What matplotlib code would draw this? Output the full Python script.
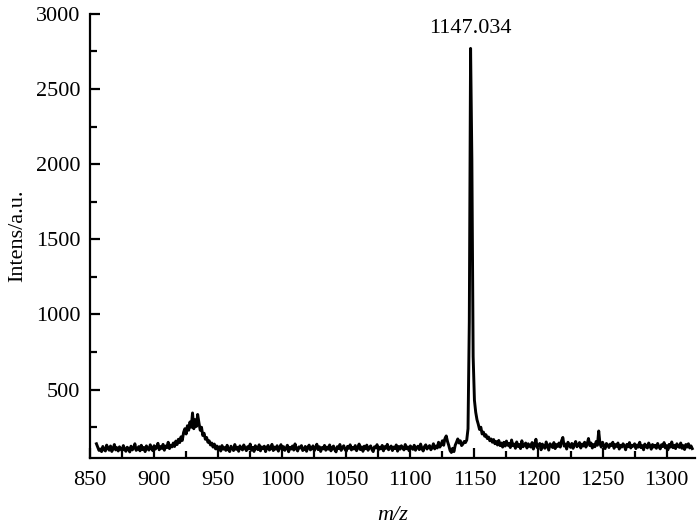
import numpy as np
import matplotlib
matplotlib.use('Agg')
import matplotlib.pyplot as plt
from matplotlib.ticker import MultipleLocator

plt.rcParams['font.family'] = ['Liberation Serif', 'DejaVu Serif']

# spectrum, one point per m/z unit starting at 855
mz_start = 855
intensity = [
    140, 118, 96, 105, 88, 122, 100, 92, 131, 110, 97, 125, 89, 108, 135, 99, 114, 92, 120, 104,
    95, 128, 102, 90, 117, 108, 86, 124, 99, 112, 140, 96, 105, 121, 93, 130, 101, 115, 88, 126,
    106, 98, 133, 111, 94, 127, 104, 119, 143, 100, 122, 109, 136, 97, 125, 114, 150, 108, 131, 119,
    145, 122, 158, 135, 170, 148, 186, 162, 215, 240, 205, 260, 230, 285, 250, 345, 240, 300, 255, 335,
    280, 230, 250, 195, 210, 170, 182, 150, 160, 132, 145, 118, 138, 106, 125, 98, 120, 92, 128, 104,
    115, 96, 130, 101, 88, 124, 109, 95, 135, 103, 117, 90, 126, 108, 99, 132, 112, 94, 121, 105,
    138, 97, 116, 89, 127, 110, 101, 133, 93, 119, 107, 124, 88, 114, 129, 98, 111, 136, 95, 118,
    104, 127, 91, 115, 134, 100, 121, 96, 110, 130, 87, 117, 105, 125, 98, 139, 108, 92, 119, 112,
    128, 95, 103, 122, 90, 116, 131, 99, 109, 126, 94, 113, 137, 101, 120, 89, 115, 106, 129, 97,
    118, 104, 132, 93, 111, 125, 100, 86, 121, 108, 135, 96, 114, 127, 103, 91, 123, 110, 133, 99,
    116, 105, 128, 94, 112, 138, 101, 119, 90, 124, 107, 131, 97, 115, 126, 102, 88, 120, 113, 134,
    98, 117, 106, 129, 93, 121, 110, 136, 100, 114, 125, 95, 118, 108, 132, 91, 122, 104, 127, 112,
    99, 135, 107, 119, 94, 126, 111, 103, 130, 97, 116, 124, 101, 138, 109, 92, 121, 133, 105, 118,
    128, 100, 115, 140, 106, 125, 112, 150, 118, 135, 160, 130, 175, 192, 155, 128, 95, 82, 110, 88,
    130, 150, 172, 145, 160, 128, 138, 155, 148, 165, 240, 950, 2770, 2030, 720, 430, 350, 300, 270, 235,
    250, 205, 218, 190, 200, 175, 185, 160, 172, 150, 168, 140, 155, 132, 162, 128, 145, 118, 150, 125,
    158, 130, 142, 115, 165, 127, 138, 110, 152, 122, 135, 108, 160, 120, 132, 145, 112, 140, 125, 118,
    148, 105, 135, 170, 115, 128, 142, 100, 138, 120, 110, 152, 125, 98, 140, 130, 115, 148, 108, 135,
    122, 145, 118, 160, 182, 125, 138, 105, 150, 128, 116, 142, 110, 135, 155, 120, 130, 148, 112, 138,
    125, 150, 118, 140, 175, 128, 145, 112, 135, 120, 155, 130, 225, 140, 118, 150, 126, 108, 142, 132,
    115, 138, 128, 150, 110, 135, 122, 145, 105, 130, 118, 140, 126, 100, 136, 120, 148, 112, 130, 124,
    140, 108, 132, 118, 150, 114, 128, 100, 138, 122, 112, 145, 126, 104, 135, 118, 130, 110, 142, 120,
    106, 134, 122, 148, 112, 128, 100, 136, 118, 152, 114, 130, 108, 140, 124, 116, 145, 110, 128, 102,
    135, 118, 140, 112, 126, 108,
]
mz = np.arange(mz_start, mz_start + len(intensity))

peak_label = '1147.034'
peak_pos = (1147, 2870)

fig = plt.figure(figsize=(7, 5.32), dpi=100)
ax = fig.add_axes([0.1286, 0.139, 0.864, 0.835])

ax.plot(mz, intensity, color='black', lw=2.1)
ax.text(peak_pos[0], peak_pos[1], peak_label, ha='center', va='baseline', fontsize=16)

ax.set_xlim(850, 1322)
ax.set_ylim(45, 3000)
ax.xaxis.set_major_locator(MultipleLocator(50))
ax.xaxis.set_minor_locator(MultipleLocator(25))
ax.set_yticks([500, 1000, 1500, 2000, 2500, 3000])
ax.yaxis.set_minor_locator(MultipleLocator(250))

for s in ['top', 'right']:
    ax.spines[s].set_visible(False)
for s in ['left', 'bottom']:
    ax.spines[s].set_linewidth(1.6)

ax.tick_params(which='major', direction='in', length=7, width=1.6, labelsize=16, pad=7)
ax.tick_params(which='minor', direction='in', length=5, width=1.6)
ax.tick_params(axis='x', which='major', pad=9)

ax.set_xlabel('m/z', fontsize=16, fontstyle='italic', labelpad=12)
ax.set_ylabel('Intens/a.u.', fontsize=16, labelpad=6)

fig.savefig('out.png', dpi=100)
